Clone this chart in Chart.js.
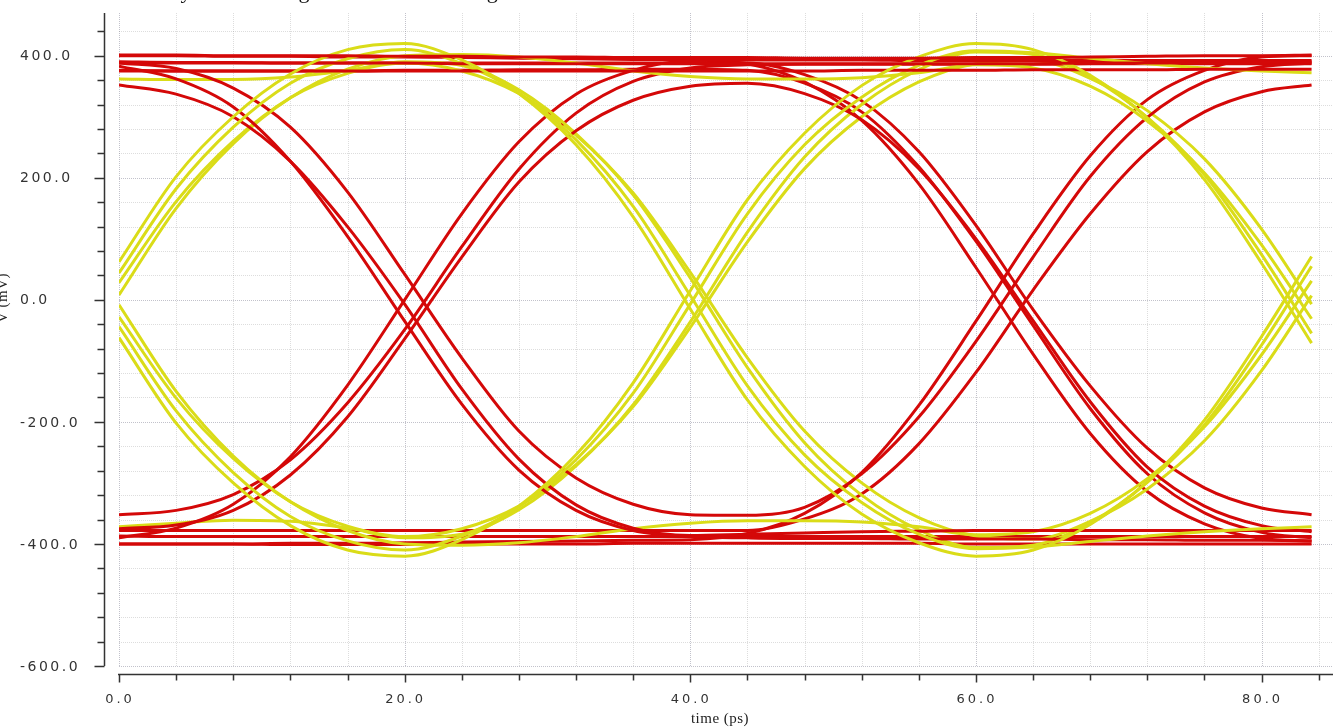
<!DOCTYPE html>
<html>
<head>
<meta charset="utf-8">
<title>Eye diagram</title>
<script src="https://cdn.jsdelivr.net/npm/chart.js@4.4.1/dist/chart.umd.min.js"></script>
<style>
  html, body { margin: 0; padding: 0; background: #fff; overflow: hidden; }
  #wrap { position: relative; width: 1335px; height: 727px; overflow: hidden; }
  #caption { position: absolute; left: 40px; top: -22px; font: 22px "Liberation Serif", serif; color: #111; white-space: nowrap; }
</style>
</head>
<body>
<div id="wrap">
  <canvas id="eyeChart" width="1335" height="727"></canvas>
  <div id="caption">The simulated eyes of both signals are shown in Fig. 5.</div>
</div>
<script>
// sample times (ps) shared by every trace
const timePs = [0, 4, 8, 12, 16, 20, 24, 28, 32, 36, 40, 44, 48, 52, 56, 60, 64, 68, 72, 76, 80, 83.5];

// red signal traces (mV)
const redHigh400 = [401, 401, 400, 400, 400, 399, 399, 398, 398, 397, 397, 397, 396, 396, 396, 397, 397, 398, 399, 400, 400, 401];
const redHigh388 = [390, 389, 389, 388, 388, 388, 387, 387, 387, 387, 387, 387, 387, 387, 387, 387, 387, 388, 388, 389, 389, 390];
const redHigh375 = [376, 375, 375, 375, 375, 375, 375, 375, 375, 375, 375, 375, 375, 376, 376, 376, 377, 377, 377, 378, 378, 378];
const redFallEarly = [383, 362, 316, 227, 104, -35, -171, -279, -345, -378, -388, -390, -391, -391, -392, -392, -392, -393, -393, -394, -394, -395];
const redFallLow = [352, 337, 300, 227, 120, -7, -146, -261, -336, -374, -386, -384, -382, -380, -379, -378, -378, -378, -378, -378, -378, -378];
const redDip = [388, 379, 347, 283, 177, 42, -95, -215, -292, -335, -352, -353, -340, -285, -192, -68, 70, 202, 299, 357, 382, 388];
const redBump = [-375, -369, -345, -287, -192, -64, 70, 193, 277, 327, 350, 355, 338, 295, 215, 100, -34, -167, -274, -338, -370, -380];
const redRiseA = [-390, -374, -335, -257, -140, 0, 141, 259, 337, 376, 392, 393, 393, 393, 392, 392, 392, 392, 392, 392, 392, 392];
const redRiseB = [-352, -345, -319, -262, -169, -49, 87, 214, 306, 358, 380, 385, 386, 386, 386, 386, 386, 387, 387, 387, 387, 387];
const redLateFallA = [400, 400, 399, 399, 398, 398, 397, 396, 395, 394, 393, 387, 357, 294, 190, 53, -89, -219, -314, -367, -391, -395];
const redLateFallB = [375, 375, 375, 375, 375, 376, 376, 377, 377, 378, 378, 376, 355, 308, 218, 96, -42, -178, -285, -349, -381, -390];
const redLateFallC = [388, 388, 388, 388, 388, 388, 388, 388, 388, 388, 388, 388, 369, 326, 243, 122, -16, -141, -243, -308, -341, -352];
const redLateRiseA = [-400, -400, -400, -399, -399, -398, -397, -396, -395, -394, -393, -383, -350, -283, -173, -35, 108, 236, 328, 376, 398, 400];
const redLateRiseB = [-378, -378, -378, -378, -378, -378, -378, -378, -378, -378, -378, -378, -359, -318, -236, -119, 16, 141, 243, 308, 341, 352];
const redLow388 = [-387, -388, -388, -388, -388, -388, -388, -388, -388, -388, -388, -388, -388, -388, -388, -388, -388, -388, -388, -388, -388, -388];
const redLow400 = [-400, -400, -400, -401, -401, -401, -400, -400, -400, -399, -399, -399, -399, -399, -399, -400, -400, -400, -400, -400, -400, -400];

// yellow signal traces (mV)
const ylwUpDownUp = [62, 202, 300, 370, 410, 420, 393, 338, 254, 136, -15, -164, -273, -351, -398, -420, -410, -368, -298, -197, -60, 71];
const ylwDownUpDown = [-62, -202, -300, -370, -410, -420, -393, -338, -254, -136, 15, 164, 273, 351, 398, 420, 410, 368, 298, 197, 60, -71];
const ylwUpDownStay = [44, 182, 283, 355, 395, 410, 387, 339, 262, 153, 7, -141, -254, -332, -384, -408, -405, -396, -387, -380, -375, -372];
const ylwDownUpStay = [-44, -182, -283, -355, -395, -410, -387, -339, -262, -153, -7, 141, 254, 332, 384, 408, 405, 396, 387, 380, 375, 372];
const ylwUpHoldDown = [8, 150, 256, 331, 378, 400, 402, 398, 388, 375, 366, 362, 362, 364, 372, 385, 380, 350, 293, 208, 90, -31];
const ylwDownHoldUp = [-8, -150, -256, -331, -378, -400, -402, -398, -388, -375, -366, -362, -362, -364, -372, -385, -380, -350, -293, -208, -90, 31];
const ylwHoldDownUp = [362, 361, 361, 365, 376, 390, 384, 344, 272, 172, 36, -111, -234, -320, -377, -406, -402, -365, -299, -205, -74, 55];
const ylwHoldUpDown = [-372, -366, -361, -363, -374, -390, -384, -344, -272, -172, -36, 111, 234, 320, 377, 406, 402, 365, 299, 205, 74, -55];
const ylwLowPulseA = [28, 161, 260, 331, 371, 388, 375, 338, 270, 175, 45, -95, -215, -300, -357, -387, -392, -363, -310, -231, -116, 7];
const ylwLowPulseB = [-28, -161, -260, -331, -371, -388, -375, -338, -270, -175, -45, 95, 215, 300, 357, 387, 392, 363, 310, 231, 116, -7];

// axis ticks and labels
const xTickValues = [0, 4, 8, 12, 16, 20, 24, 28, 32, 36, 40, 44, 48, 52, 56, 60, 64, 68, 72, 76, 80, 84];
const xLabelValues = [0, 20, 40, 60, 80];
const yTickValues = [-600, -560, -520, -480, -440, -400, -360, -320, -280, -240, -200, -160, -120, -80, -40,
  0, 40, 80, 120, 160, 200, 240, 280, 320, 360, 400, 440];
const yLabelValues = [-600, -400, -200, 0, 200, 400];

const RED = 'rgb(212, 8, 8)';
const YELLOW = 'rgb(218, 220, 24)';

const redTraces = [redHigh400, redHigh388, redHigh375, redFallEarly, redFallLow, redDip, redBump, redRiseA,
  redRiseB, redLateFallA, redLateFallB, redLateFallC, redLateRiseA, redLateRiseB, redLow388, redLow400];
const yellowTraces = [ylwUpDownUp, ylwDownUpDown, ylwUpDownStay, ylwDownUpStay, ylwUpHoldDown,
  ylwDownHoldUp, ylwHoldDownUp, ylwHoldUpDown, ylwLowPulseA, ylwLowPulseB];

function toDataset(values, color) {
    return {
        data: values.map((v, i) => ({ x: timePs[i], y: v })),
        borderColor: color,
        borderWidth: 3,
        pointRadius: 0,
        fill: false,
        cubicInterpolationMode: 'monotone'
    };
}

// interleave the two colours so neither sits fully on top
const datasets = [];
const n = Math.max(redTraces.length, yellowTraces.length);
for (let i = 0; i < n; i++) {
    if (redTraces[i]) datasets.push(toDataset(redTraces[i], RED));
    if (yellowTraces[i]) datasets.push(toDataset(yellowTraces[i], YELLOW));
}

// dotted grid behind the traces
const gridPlugin = {
    id: 'eyeGrid',
    beforeDatasetsDraw(chart) {
        const { ctx, chartArea, scales: { x, y } } = chart;
        ctx.save();
        ctx.lineWidth = 1;
        ctx.setLineDash([1, 1]);
        xTickValues.forEach(v => {
            const px = Math.round(x.getPixelForValue(v)) + 0.5;
            ctx.strokeStyle = v % 20 === 0 ? 'rgba(120,120,140,0.45)' : 'rgba(120,120,120,0.25)';
            ctx.beginPath();
            ctx.moveTo(px, chartArea.top);
            ctx.lineTo(px, chartArea.bottom);
            ctx.stroke();
        });
        yTickValues.forEach(v => {
            const py = Math.round(y.getPixelForValue(v)) + 0.5;
            ctx.strokeStyle = v % 200 === 0 ? 'rgba(120,120,140,0.45)' : 'rgba(120,120,120,0.25)';
            ctx.beginPath();
            ctx.moveTo(chartArea.left, py);
            ctx.lineTo(chartArea.right, py);
            ctx.stroke();
        });
        ctx.restore();
    }
};

// detached axes, tick marks and labels
const axesPlugin = {
    id: 'eyeAxes',
    afterDraw(chart) {
        const { ctx, chartArea, scales: { x, y } } = chart;
        const axisX = chartArea.left - 14.5;
        const axisY = chartArea.bottom + 8.5;
        ctx.save();
        ctx.strokeStyle = '#333';
        ctx.lineWidth = 1.5;
        ctx.beginPath();
        ctx.moveTo(axisX, chartArea.top);
        ctx.lineTo(axisX, chartArea.bottom);
        ctx.moveTo(chartArea.left - 1, axisY);
        ctx.lineTo(chartArea.right, axisY);
        yTickValues.forEach(v => {
            const py = Math.round(y.getPixelForValue(v)) + 0.5;
            const len = v % 200 === 0 ? 10 : 7;
            ctx.moveTo(axisX - len, py);
            ctx.lineTo(axisX, py);
        });
        xTickValues.forEach(v => {
            const px = Math.round(x.getPixelForValue(v)) + 0.5;
            const len = v % 20 === 0 ? 8 : 6;
            ctx.moveTo(px, axisY);
            ctx.lineTo(px, axisY + len);
        });
        ctx.stroke();

        ctx.fillStyle = '#333';
        ctx.font = '14px "DejaVu Sans"';
        ctx.letterSpacing = '2.5px';
        ctx.textAlign = 'left';
        ctx.textBaseline = 'middle';
        yLabelValues.forEach(v => ctx.fillText(v.toFixed(1), 20, y.getPixelForValue(v) + 1));

        ctx.font = '13px "DejaVu Sans"';
        ctx.letterSpacing = '3px';
        ctx.textAlign = 'center';
        xLabelValues.forEach(v => ctx.fillText(v.toFixed(1), x.getPixelForValue(v) + 1, 700));

        ctx.letterSpacing = '0.5px';
        ctx.font = '15px "Liberation Serif"';
        ctx.fillStyle = '#222';
        ctx.fillText('time (ps)', 720, 719);

        // y title sits partly outside the crop, as in the source figure
        ctx.translate(7, 298);
        ctx.rotate(-Math.PI / 2);
        ctx.textBaseline = 'alphabetic';
        ctx.fillText('V (mV)', 0, 0);
        ctx.restore();
    }
};

new Chart(document.getElementById('eyeChart').getContext('2d'), {
    type: 'line',
    data: { datasets: datasets },
    options: {
        responsive: false,
        animation: false,
        devicePixelRatio: 1,
        layout: { padding: { left: 119, top: 13, right: 2, bottom: 61 } },
        plugins: { legend: { display: false }, tooltip: { enabled: false } },
        scales: {
            x: { type: 'linear', min: 0, max: 85, display: false },
            y: { type: 'linear', min: -600, max: 470, display: false }
        }
    },
    plugins: [gridPlugin, axesPlugin]
});
</script>
</body>
</html>
